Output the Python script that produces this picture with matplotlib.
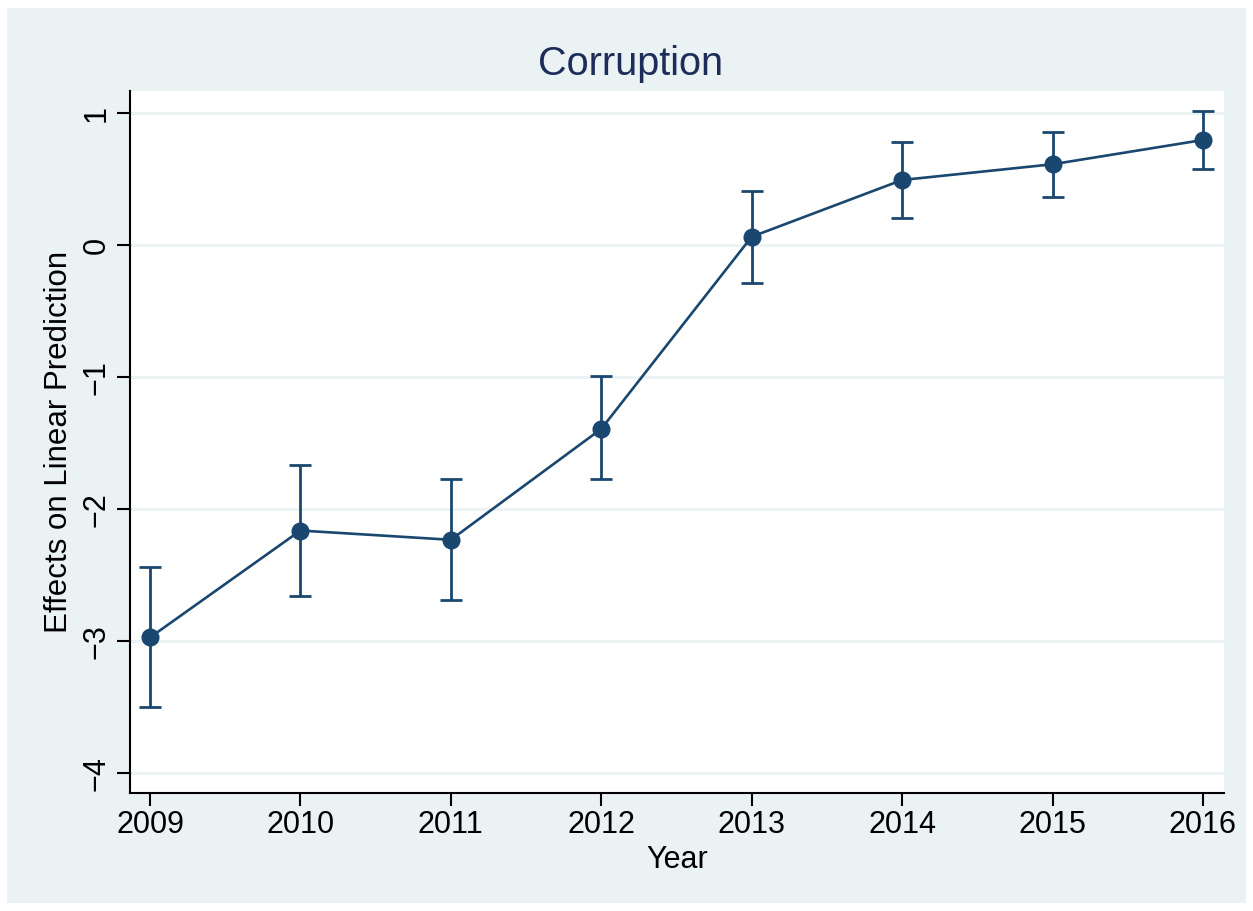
import matplotlib.pyplot as plt

# Margins: year effects on the linear prediction, with 95% CI
years = [2009, 2010, 2011, 2012, 2013, 2014, 2015, 2016]
effect = [-2.97, -2.16, -2.23, -1.39, 0.065, 0.495, 0.614, 0.798]
ci_low = [-3.495, -2.652, -2.687, -1.773, -0.283, 0.205, 0.368, 0.576]
ci_high = [-2.435, -1.664, -1.773, -0.988, 0.414, 0.780, 0.858, 1.02]
y_ticks = [-4, -3, -2, -1, 0, 1]

navy = '#1a476f'
bg = '#eaf2f3'

plt.rcParams['font.family'] = ['Liberation Sans', 'DejaVu Sans']

fig = plt.figure(figsize=(12.53, 9.11), dpi=100, facecolor='white')
# light outer band inside a thin white margin
fig.patches.append(plt.Rectangle((7 / 1253, 1 - 903 / 911), 1239 / 1253, 895 / 911,
                                 transform=fig.transFigure, facecolor=bg,
                                 edgecolor='none', zorder=-10))

ax = fig.add_axes([130 / 1253, 1 - 792.5 / 911, 1094 / 1253, 701.5 / 911])
ax.set_facecolor('white')

for t in y_ticks:
    ax.axhline(t, color=bg, linewidth=2, zorder=1)

err_lo = [e - l for e, l in zip(effect, ci_low)]
err_hi = [h - e for e, h in zip(effect, ci_high)]
ax.errorbar(years, effect, yerr=[err_lo, err_hi], fmt='none', ecolor=navy,
            elinewidth=2, capsize=8, capthick=2, zorder=3)
ax.plot(years, effect, color=navy, linewidth=1.9, marker='o', markersize=12,
        zorder=4)

ax.set_xlim(2008.867, 2016.14)
ax.set_ylim(-4.144, 1.169)
ax.set_xticks(years)
ax.set_yticks(y_ticks)
ax.set_yticklabels(['\u2212' + str(-t) if t < 0 else str(t) for t in y_ticks],
                   rotation=90, va='center')

for side in ['top', 'right']:
    ax.spines[side].set_visible(False)
for side in ['left', 'bottom']:
    ax.spines[side].set_linewidth(1.5)
ax.tick_params(axis='both', length=9.5, width=1.5, labelsize=22, colors='black')
ax.tick_params(axis='x', pad=3)
ax.tick_params(axis='y', pad=4)

ax.set_xlabel('Year', fontsize=22, labelpad=4)
ax.set_ylabel('Effects on Linear Prediction', fontsize=22.5, labelpad=5)
fig.text(631 / 1253, 1 - 75 / 911, 'Corruption', fontsize=28.5, color='#1c2d59',
         ha='center', va='baseline')

plt.savefig('out.png', dpi=100, facecolor='white')
